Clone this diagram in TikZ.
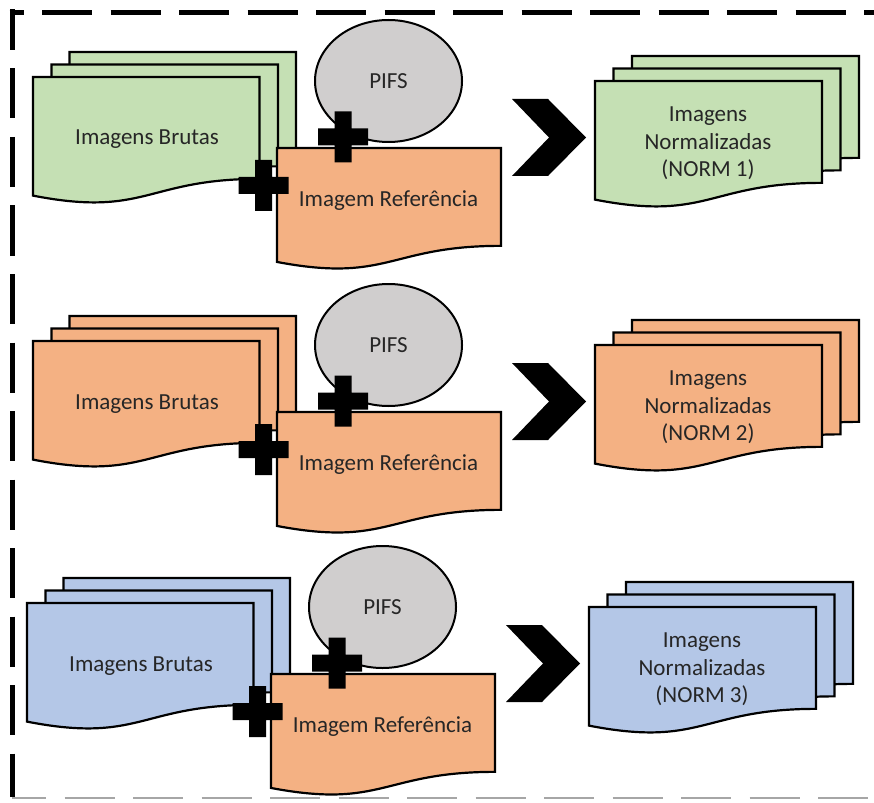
\documentclass[tikz,border=0pt]{standalone}
\usepackage{fontspec}
\setmainfont{Carlito}
\usetikzlibrary{shapes.geometric}
\definecolor{fgreen}{HTML}{C5E0B4}
\definecolor{forange}{HTML}{F4B183}
\definecolor{fblue}{HTML}{B4C7E7}
\definecolor{fgray}{HTML}{D0CECE}
\definecolor{txtc}{HTML}{262626}
\tikzset{
  docst/.style={draw=black, line width=2.2pt, line join=miter},
  lbl/.style={text=txtc, font=\fontsize{23}{27.5}\selectfont, inner sep=0pt, align=center},
  pifsst/.style={ellipse, draw=black, line width=2pt, fill=fgray, minimum width=147pt, minimum height=122pt, inner sep=0pt, text=txtc, font=\fontsize{23}{27.5}\selectfont},
}
% style, x, y, w, h
\newcommand{\docshape}[5]{%
  \path[#1] (#2,#3) -- ({#2+#4},#3) -- ({#2+#4},{#3+0.802*#5})
    .. controls ({#2+0.5*#4},{#3+0.802*#5}) and ({#2+0.5*#4},{#3+1.108*#5}) .. ({#2},{#3+0.934*#5}) -- cycle;}
\newcommand{\plussign}[2]{%
  \fill[black] ({#1-8.5},{#2-25.5}) -- ({#1+8.5},{#2-25.5}) -- ({#1+8.5},{#2-8.5}) -- ({#1+25},{#2-8.5})
    -- ({#1+25},{#2+8.5}) -- ({#1+8.5},{#2+8.5}) -- ({#1+8.5},{#2+25.5}) -- ({#1-8.5},{#2+25.5})
    -- ({#1-8.5},{#2+8.5}) -- ({#1-25},{#2+8.5}) -- ({#1-25},{#2-8.5}) -- ({#1-8.5},{#2-8.5}) -- cycle;}
% shift x, shift y, colour, index
\newcommand{\diagrow}[4]{%
\begin{scope}[shift={(#1,#2)}]
  % raw images stack
  \docshape{docst, fill=#3}{69.5}{52}{226.5}{127}
  \docshape{docst, fill=#3}{51.5}{64.5}{226.5}{127}
  \docshape{docst, fill=#3}{33}{77}{226.5}{127}
  \node[lbl, anchor=base] (brutas#4) at (147,145) {Imagens Brutas};
  % reference image
  \docshape{docst, fill=forange}{277}{148}{224}{122}
  \node[lbl, anchor=base] (ref#4) at (388.5,206.5) {Imagem Referência};
  % PIFS
  \node[pifsst] (pifs#4) at (388.5,81) {PIFS};
  % plus signs
  \plussign{263.5}{185.5}
  \plussign{343}{137}
  % chevron
  \fill[black] (512,99) -- (548,99) -- (586,137.5) -- (548,176) -- (512,176) -- (549,137.5) -- cycle;
  % normalized stack
  \docshape{docst, fill=#3}{632}{56}{227}{127}
  \docshape{docst, fill=#3}{613.5}{68.5}{227}{127}
  \docshape{docst, fill=#3}{595}{81}{227}{127}
  \node[lbl, anchor=base] (norm#4) at (708,176.7) {Imagens\\Normalizadas\\(NORM #4)};
\end{scope}}
\begin{document}
\begin{tikzpicture}[x=1pt, y=-1pt]
  \useasboundingbox (0,0) rectangle (874,802);
  \fill[white] (0,0) rectangle (874,802);
  % frame
  \draw[line width=5pt, dash pattern=on 50pt off 18.5pt, dash phase=36pt] (9.5,12.5) -- (874,12.5);
  \draw[line width=5pt, dash pattern=on 50pt off 18.5pt, dash phase=9.5pt] (12.3,9.5) -- (12.3,797);
  \draw[line width=2pt, color=black!35, dash pattern=on 50pt off 18.5pt, dash phase=16pt] (12,797.5) -- (874,797.5);
  \diagrow{0}{0}{fgreen}{1}
  \diagrow{0}{264}{forange}{2}
  \diagrow{-6}{526}{fblue}{3}
\end{tikzpicture}
\end{document}
